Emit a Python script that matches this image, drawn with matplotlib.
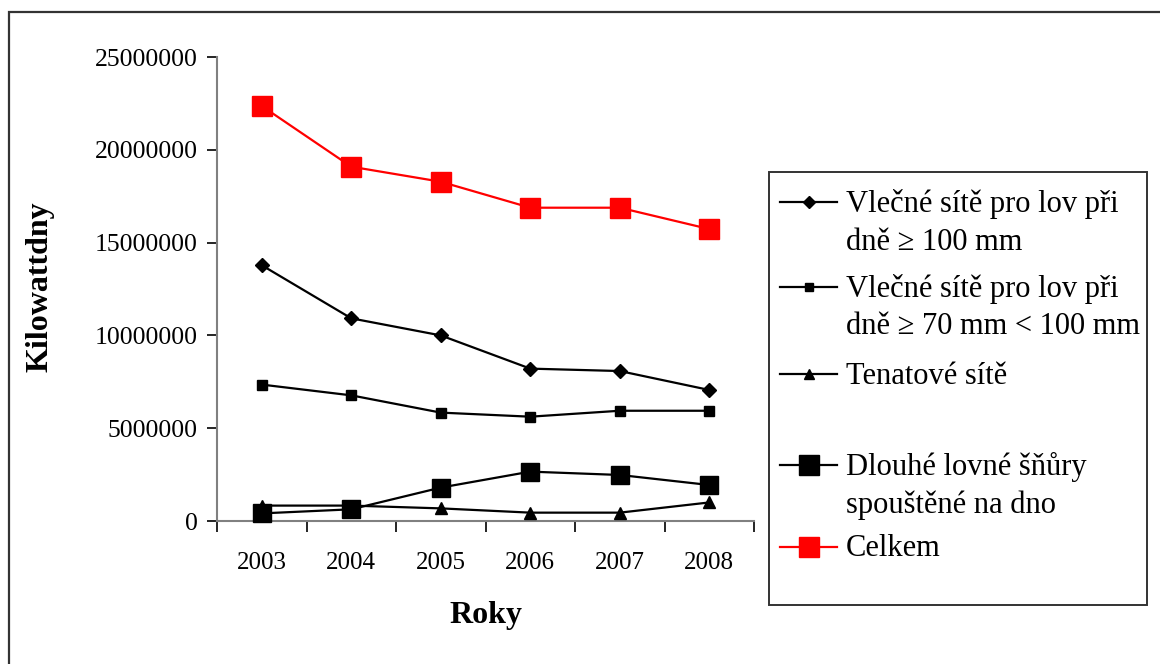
import matplotlib
matplotlib.use("Agg")
import matplotlib.pyplot as plt
from matplotlib.lines import Line2D
from matplotlib.patches import Rectangle

years = ["2003", "2004", "2005", "2006", "2007", "2008"]
vlecne_100 = [13780000, 10920000, 10000000, 8210000, 8080000, 7060000]
vlecne_70_100 = [7350000, 6770000, 5840000, 5620000, 5940000, 5940000]
tenatove = [830000, 830000, 680000, 450000, 450000, 1000000]
dlouhe = [410000, 630000, 1800000, 2660000, 2480000, 1940000]
celkem = [22360000, 19090000, 18280000, 16880000, 16880000, 15730000]

labels = [
    ["Vlečné sítě pro lov při", "dně ≥ 100 mm"],
    ["Vlečné sítě pro lov při", "dně ≥ 70 mm < 100 mm"],
    ["Tenatové sítě"],
    ["Dlouhé lovné šňůry", "spouštěné na dno"],
    ["Celkem"],
]
yticks = [0, 5000000, 10000000, 15000000, 20000000, 25000000]

plt.rcParams['font.family'] = ['Liberation Serif', 'DejaVu Serif']

W, H = 1160, 664
fig = plt.figure(figsize=(W / 100, H / 100), dpi=100)

def fx(x):
    return x / W

def fy(y):
    return 1 - y / H

ax = fig.add_axes([fx(217), fy(521), fx(754) - fx(217), fy(57) - fy(521)])
x = list(range(len(years)))

styles = [
    dict(color="black", marker="D", ms=7.5, lw=1.6),
    dict(color="black", marker="s", ms=7.5, lw=1.6),
    dict(color="black", marker="^", ms=9, lw=1.6),
    dict(color="black", marker="s", ms=13.5, lw=1.6),
    dict(color="#ff0000", marker="s", ms=14.5, lw=1.6),
]
series = [vlecne_100, vlecne_70_100, tenatove, dlouhe, celkem]
for s, st in zip(series, styles):
    ax.plot(x, s, color=st["color"], marker=st["marker"], ms=st["ms"], lw=st["lw"],
            mec=st["color"], mfc=st["color"], clip_on=False, zorder=3)

ax.set_xlim(-0.5, len(years) - 0.5)
ax.set_ylim(0, 25000000)
ax.set_yticks(yticks)
ax.set_yticklabels([str(v) for v in yticks])
ax.set_xticks(x)
ax.set_xticklabels(years)
ax.set_xticks([i - 0.5 for i in range(len(years) + 1)], minor=True)
ax.tick_params(axis="x", which="major", length=0, pad=22, labelsize=18)
ax.tick_params(axis="x", which="minor", length=8, width=1.2, color="black")
ax.tick_params(axis="y", length=7, width=1.2, pad=7, labelsize=18.5, color="black")
for side in ["top", "right"]:
    ax.spines[side].set_visible(False)
ax.spines["left"].set_color("#808080")
ax.spines["left"].set_linewidth(1.5)
ax.spines["bottom"].set_color("#808080")
ax.spines["bottom"].set_linewidth(1.5)

fig.text(fx(486), fy(615), "Roky", ha="center", va="center", fontsize=23, fontweight="bold")
fig.text(fx(40), fy(287), "Kilowattdny", ha="center", va="center", fontsize=23,
         fontweight="bold", rotation=90)

# outer frame (left & top visible)
fig.add_artist(Rectangle((fx(9), fy(700)), 1.2, fy(12) - fy(700), transform=fig.transFigure,
                         fill=False, edgecolor="#333333", lw=1.6))

# legend box
fig.add_artist(Rectangle((fx(769), fy(605)), fx(1147) - fx(769), fy(172) - fy(605),
                         transform=fig.transFigure, fill=False, edgecolor="#333333", lw=1.4))
leg_y = [202, 287, 374, 465, 547]
leg_ms = [6, 6, 7.5, 14, 14.5]
line_gap = 38
for lab, st, ly, ms in zip(labels, styles, leg_y, leg_ms):
    fig.add_artist(Line2D([fx(780), fx(837)], [fy(ly), fy(ly)], transform=fig.transFigure,
                          color=st["color"], lw=1.6))
    fig.add_artist(Line2D([fx(808.5)], [fy(ly)], transform=fig.transFigure,
                          color=st["color"], marker=st["marker"], ms=ms, mec=st["color"],
                          mfc=st["color"]))
    for k, line in enumerate(lab):
        fig.text(fx(846), fy(ly + k * line_gap + 2), line, ha="left", va="center",
                 fontsize=22)

fig.savefig("out.png", dpi=100)
